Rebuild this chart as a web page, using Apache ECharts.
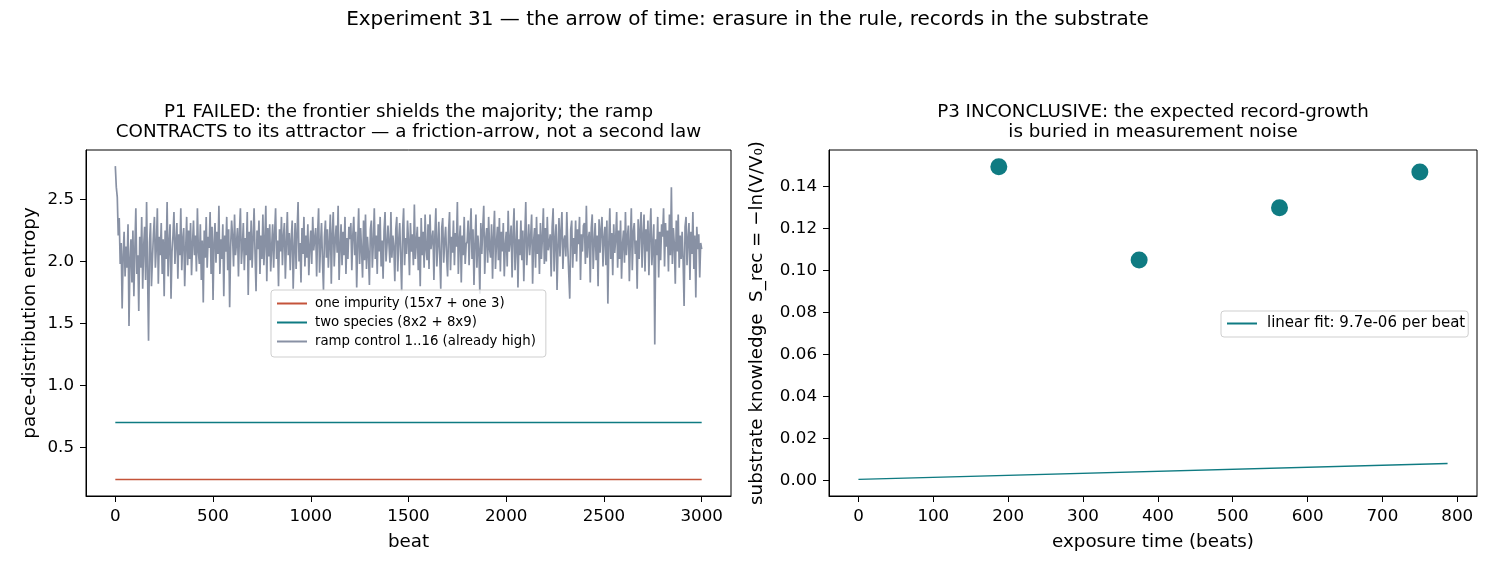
<!DOCTYPE html>
<html><head><meta charset="utf-8">
<script src="https://cdn.jsdelivr.net/npm/echarts@6/dist/echarts.min.js"></script>
<style>html,body{margin:0;padding:0;background:#fff}#c{width:1495px;height:572px}</style>
</head><body><div id="c"></div>
<script>
// ---------- data ----------
const suptitle = 'Experiment 31 — the arrow of time: erasure in the rule, records in the substrate';
const leftTitle = 'P1 FAILED: the frontier shields the majority; the ramp\nCONTRACTS to its attractor — a friction-arrow, not a second law';
const rightTitle = 'P3 INCONCLUSIVE: the expected record-growth\nis buried in measurement noise';

const seriesNames = ['one impurity (15x7 + one 3)', 'two species (8x2 + 8x9)', 'ramp control 1..16 (already high)'];
const flatBeats = [0, 3000];
const impurityEntropy = [0.24, 0.24];
const twoSpeciesEntropy = [0.70, 0.70];

const rampStartBeat = 0;
const rampBeatStep = 5;
const rampEntropy = [
  2.77, 2.60, 2.52, 2.21, 2.35, 1.98, 2.15, 1.62, 2.05, 2.24, 1.88, 2.12, 1.95, 2.30, 1.48, 2.02, 2.18, 1.83, 2.25, 1.72,
  2.10, 2.43, 1.90, 2.05, 1.60, 2.20, 1.95, 2.36, 1.78, 2.12, 2.28, 1.85, 2.48, 1.92, 1.36, 2.15, 2.31, 1.80, 2.02, 2.22,
  2.36, 1.95, 2.12, 2.43, 1.82, 2.20, 2.05, 2.31, 1.90, 2.18, 1.72, 2.25, 2.02, 2.48, 1.88, 2.15, 2.30, 1.70, 2.08, 2.21,
  2.40, 1.98, 2.15, 2.31, 1.86, 2.22, 2.05, 2.43, 1.93, 2.18, 2.27, 1.80, 2.10, 2.36, 1.97, 2.25, 2.02, 2.31, 1.89, 2.14,
  2.33, 2.05, 2.21, 1.92, 2.43, 2.08, 1.98, 2.30, 1.85, 2.17, 1.67, 2.25, 2.03, 2.36, 1.95, 2.20, 2.11, 2.40, 1.90, 2.28,
  1.69, 2.15, 2.31, 1.99, 2.24, 2.06, 2.45, 1.90, 2.18, 2.02, 2.30, 1.72, 2.21, 2.08, 2.36, 1.93, 2.26, 1.63, 2.12, 2.33,
  2.20, 1.96, 2.38, 2.05, 2.15, 2.27, 1.88, 2.23, 2.43, 1.98, 2.12, 2.31, 1.93, 2.19, 2.05, 2.40, 1.73, 2.24, 2.01, 2.33,
  1.95, 2.18, 2.43, 2.06, 1.76, 2.25, 2.10, 2.33, 1.90, 2.21, 2.02, 2.38, 1.97, 2.16, 2.45, 1.84, 2.27, 2.04, 2.30, 1.92,
  2.12, 2.30, 1.95, 2.22, 2.43, 2.02, 2.17, 1.80, 2.26, 2.08, 2.36, 1.97, 2.20, 2.31, 1.86, 2.14, 2.40, 2.05, 2.23, 1.93,
  2.18, 2.33, 1.78, 2.10, 2.31, 1.94, 2.24, 2.48, 2.00, 2.15, 1.83, 2.27, 2.06, 2.36, 1.96, 2.21, 2.03, 2.30, 1.89, 2.12,
  2.25, 1.98, 2.36, 2.09, 2.18, 2.27, 1.88, 2.22, 2.43, 1.91, 2.14, 2.31, 2.00, 1.77, 2.20, 2.33, 2.03, 2.26, 1.95, 2.15,
  2.38, 1.82, 2.22, 2.40, 1.96, 2.17, 2.29, 2.07, 2.45, 1.85, 2.11, 2.30, 1.97, 2.24, 2.05, 2.36, 1.90, 2.19, 2.02, 2.28,
  2.18, 2.31, 1.93, 2.21, 2.36, 2.05, 2.24, 1.79, 2.14, 2.43, 1.98, 2.27, 2.09, 1.87, 2.33, 2.01, 2.38, 1.94, 2.20, 2.06,
  1.81, 2.26, 2.33, 1.95, 2.15, 2.43, 2.02, 2.21, 1.90, 2.30, 2.08, 2.36, 1.96, 2.17, 1.86, 2.25, 2.40, 2.00, 2.13, 2.29,
  2.28, 1.99, 2.40, 2.03, 2.21, 2.12, 1.84, 2.26, 2.36, 1.92, 2.17, 2.31, 2.04, 1.76, 2.25, 2.43, 1.97, 2.19, 2.06, 2.33,
  2.17, 1.89, 2.31, 2.08, 2.22, 1.97, 2.46, 2.02, 2.15, 2.28, 1.93, 2.20, 1.80, 2.35, 2.05, 2.24, 1.95, 2.38, 2.10, 2.01,
  2.30, 1.94, 2.38, 2.10, 2.18, 2.25, 1.85, 2.21, 2.43, 1.96, 2.13, 2.32, 2.04, 1.78, 2.27, 2.35, 1.99, 2.16, 2.28, 2.04,
  1.88, 2.24, 2.40, 1.93, 2.20, 2.07, 2.33, 1.97, 2.23, 2.12, 2.48, 1.90, 2.17, 2.29, 1.83, 2.21, 2.05, 2.36, 1.98, 2.14,
  2.16, 2.33, 1.97, 2.22, 2.43, 2.02, 2.26, 1.81, 2.14, 2.38, 1.95, 2.21, 2.09, 1.74, 2.31, 2.06, 2.27, 2.45, 1.90, 2.18,
  2.27, 1.99, 2.36, 2.10, 2.03, 2.30, 1.86, 2.20, 2.41, 1.94, 2.15, 2.28, 2.01, 2.35, 1.92, 2.24, 2.08, 2.31, 1.88, 2.13,
  2.24, 1.96, 2.41, 2.08, 2.17, 2.29, 1.87, 2.22, 2.43, 1.93, 2.12, 2.33, 1.79, 2.18, 2.05, 2.33, 2.01, 2.25, 1.84, 2.20,
  2.48, 1.97, 2.14, 2.30, 2.05, 2.20, 2.38, 1.82, 2.16, 2.27, 1.95, 2.36, 2.06, 2.22, 1.90, 2.31, 2.02, 2.19, 2.43, 1.98,
  2.27, 2.00, 2.36, 2.09, 2.15, 2.22, 1.88, 2.28, 2.43, 1.92, 2.18, 2.30, 1.77, 2.12, 2.35, 2.04, 2.24, 2.40, 1.94, 2.17,
  2.21, 2.04, 2.40, 2.11, 1.90, 1.70, 2.26, 2.33, 1.95, 2.19, 2.06, 2.33, 2.00, 2.26, 2.14, 2.36, 1.85, 2.22, 2.08, 2.29,
  2.31, 1.98, 2.45, 2.03, 2.18, 2.24, 1.83, 2.27, 2.38, 1.94, 2.15, 2.31, 2.01, 2.21, 1.80, 2.34, 2.07, 2.26, 2.36, 1.96,
  2.19, 2.28, 1.97, 2.33, 1.66, 2.15, 2.43, 2.02, 2.23, 1.89, 2.30, 2.07, 2.18, 2.40, 1.95, 2.25, 2.02, 2.33, 1.86, 2.14,
  2.25, 1.99, 2.40, 2.05, 2.20, 2.29, 1.84, 2.16, 2.43, 1.93, 2.24, 2.31, 2.06, 2.17, 1.78, 2.34, 2.02, 2.26, 2.40, 1.95,
  2.21, 2.38, 1.92, 2.26, 2.08, 2.33, 1.89, 2.22, 2.43, 1.97, 2.13, 2.30, 1.33, 2.18, 2.05, 2.36, 1.87, 2.24, 2.01, 2.30,
  2.20, 2.43, 1.96, 2.31, 2.12, 2.25, 1.92, 2.38, 2.05, 2.60, 1.98, 2.27, 2.14, 1.82, 2.33, 2.08, 2.38, 1.95, 2.21, 2.02,
  2.24, 2.01, 1.64, 2.28, 2.36, 1.97, 2.18, 2.31, 1.85, 2.24, 2.06, 2.40, 1.94, 2.21, 1.71, 2.28, 2.10, 2.22, 1.87, 2.15,
  2.10
];

const exposureBeats = [187.5, 375, 562.5, 750];
const recordKnowledge = [0.1495, 0.105, 0.130, 0.147];
const fitName = 'linear fit: 9.7e-06 per beat';
const fitBeats = [0, 787];
const fitValues = [0.0004, 0.0080];

const leftXTicks = [0, 500, 1000, 1500, 2000, 2500, 3000];
const leftYTicks = [0.5, 1.0, 1.5, 2.0, 2.5];
const rightXTicks = [0, 100, 200, 300, 400, 500, 600, 700, 800];
const rightYTicks = [0, 0.02, 0.04, 0.06, 0.08, 0.10, 0.12, 0.14];

// ---------- chart ----------
const FONT = 'DejaVu Sans';
const RED = '#c4533a', TEAL = '#0f7b82', GRAY = '#8891a4';

const pair = (xs, ys) => xs.map((x, i) => [x, ys[i]]);
const rampData = rampEntropy.map((v, i) => [rampStartBeat + i * rampBeatStep, v]);

function valueAxis(gridIndex, min, max, ticks, fmt, name, nameGap, margin) {
  return {
    type: 'value', gridIndex, min, max,
    axisLine: { show: true, onZero: false, lineStyle: { color: '#000', width: 1 } },
    axisTick: { show: true, length: 6, customValues: ticks, lineStyle: { color: '#000', width: 1 } },
    axisLabel: { customValues: ticks, formatter: fmt, color: '#000', fontSize: 16.7, fontFamily: FONT, margin },
    splitLine: { show: false },
    name, nameLocation: 'middle', nameGap,
    nameTextStyle: { color: '#000', fontSize: 18.3, fontFamily: FONT }
  };
}

const chart = echarts.init(document.getElementById('c'), null, { renderer: 'canvas' });
chart.setOption({
  animation: false,
  backgroundColor: '#fff',
  textStyle: { fontFamily: FONT },
  title: [
    { text: suptitle, left: 747.5, textAlign: 'center', top: 10, padding: 0,
      textStyle: { fontSize: 20, fontWeight: 'normal', color: '#000', fontFamily: FONT } },
    { text: leftTitle, left: 408.5, textAlign: 'center', top: 102, padding: 0,
      textStyle: { fontSize: 18.3, fontWeight: 'normal', color: '#000', fontFamily: FONT, lineHeight: 20 } },
    { text: rightTitle, left: 1153, textAlign: 'center', top: 102, padding: 0,
      textStyle: { fontSize: 18.3, fontWeight: 'normal', color: '#000', fontFamily: FONT, lineHeight: 20 } }
  ],
  grid: [
    { left: 86, top: 150, width: 645, height: 346, show: true, borderColor: '#000', borderWidth: 1, backgroundColor: 'transparent' },
    { left: 829, top: 150, width: 648, height: 346, show: true, borderColor: '#000', borderWidth: 1, backgroundColor: 'transparent' }
  ],
  xAxis: [
    valueAxis(0, -150, 3150, leftXTicks, v => String(v), 'beat', 37, 12),
    valueAxis(1, -39.35, 826.35, rightXTicks, v => String(v), 'exposure time (beats)', 37, 12)
  ],
  yAxis: [
    valueAxis(0, 0.107, 2.90, leftYTicks, v => v.toFixed(1), 'pace-distribution entropy', 47, 12),
    valueAxis(1, -0.0075, 0.1575, rightYTicks, v => v.toFixed(2), 'substrate knowledge  S_rec = −ln(V/V₀)', 63, 12)
  ],
  legend: [
    { data: seriesNames, left: 271, top: 290, orient: 'vertical', icon: 'rect', itemWidth: 30, itemHeight: 2,
      itemGap: 6, textStyle: { fontSize: 13.3, color: '#000', fontFamily: FONT, padding: [0, 0, 0, 3] },
      borderColor: '#cfcfcf', borderWidth: 1, borderRadius: 3, padding: [7, 10, 9, 6],
      backgroundColor: 'rgba(255,255,255,0.8)', selectedMode: false },
    { data: [fitName], left: 1221, top: 311, orient: 'vertical', icon: 'rect', itemWidth: 30, itemHeight: 2,
      textStyle: { fontSize: 15, color: '#000', fontFamily: FONT, padding: [0, 0, 0, 5] },
      borderColor: '#cfcfcf', borderWidth: 1, borderRadius: 3, padding: [5, 3, 6, 6],
      backgroundColor: 'rgba(255,255,255,0.8)', selectedMode: false }
  ],
  series: [
    { name: seriesNames[0], type: 'line', xAxisIndex: 0, yAxisIndex: 0, data: pair(flatBeats, impurityEntropy),
      showSymbol: false, color: RED, lineStyle: { color: RED, width: 1.6 } },
    { name: seriesNames[1], type: 'line', xAxisIndex: 0, yAxisIndex: 0, data: pair(flatBeats, twoSpeciesEntropy),
      showSymbol: false, color: TEAL, lineStyle: { color: TEAL, width: 1.6 } },
    { name: seriesNames[2], type: 'line', xAxisIndex: 0, yAxisIndex: 0, data: rampData,
      showSymbol: false, color: GRAY, lineStyle: { color: GRAY, width: 1.7 } },
    { name: 'records', type: 'scatter', xAxisIndex: 1, yAxisIndex: 1, data: pair(exposureBeats, recordKnowledge),
      symbolSize: 17, itemStyle: { color: TEAL, opacity: 1 } },
    { name: fitName, type: 'line', xAxisIndex: 1, yAxisIndex: 1, data: pair(fitBeats, fitValues),
      showSymbol: false, color: TEAL, lineStyle: { color: TEAL, width: 1.3 } }
  ]
});
</script></body></html>
